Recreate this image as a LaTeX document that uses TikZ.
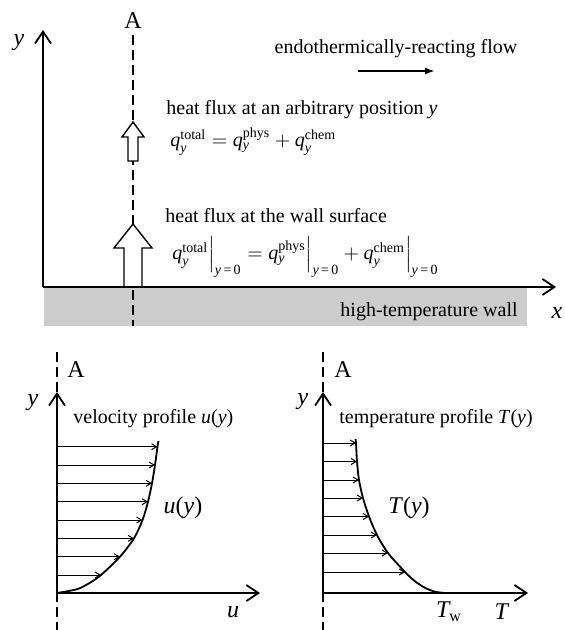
\documentclass[tikz,border=0pt]{standalone}
\usepackage{amsmath}
\usepackage{fontspec}
\setmainfont{Liberation Serif}
\usetikzlibrary{arrows.meta}

\newcommand\qy[1]{\textit{q}_{\textit{y}}^{\text{#1}}}
\newcommand\atwall{\Big|_{\text{\textit{y}\,=\,0}}}

\begin{document}
\begin{tikzpicture}[
  x=0.5pt, y=-0.5pt,
  axis/.style={-{Straight Barb[length=6pt,width=8pt]}, line width=0.9pt},
  guide/.style={dash pattern=on 5pt off 2.5pt, line width=0.6pt},
  block/.style={draw, fill=white, line width=0.7pt},
  prof/.style={-{Straight Barb[length=2.5pt,width=3pt]}, line width=0.5pt},
  curve/.style={line width=0.9pt},
  flow/.style={-{Latex[length=5pt,width=3.5pt]}, line width=0.9pt},
  lbl/.style={inner sep=0pt},
  sym/.style={font=\large, inner sep=1pt}
]
  \useasboundingbox (0,0) rectangle (564,630);

  % wall and section line A
  \fill[gray!40] (44,288) rectangle (527,326);
  \node[lbl, anchor=base east] (wall) at (518,316) {high-temperature wall};
  \draw[guide] (133,35) -- (133,326);
  \node[sym] (Atop) at (133,21) {A};

  % heat flux arrows
  \draw[block] (124,287) -- (124,248) -- (114,248) -- (133,224) -- (152,248) -- (142,248) -- (142,287) -- cycle;
  \draw[block] (128,161) -- (128,137) -- (122,137) -- (133,122) -- (144,137) -- (138,137) -- (138,161) -- cycle;

  \coordinate (o1) at (43,287);
  \draw[axis] (o1) -- (43,30);
  \draw[axis] (o1) -- (556,287);
  \node[sym] (ytop) at (19,43) {\textit{y}};
  \node[sym] (xtop) at (557,313) {\textit{x}};

  \node[lbl, anchor=base] (flowtxt) at (396,54) {endothermically-reacting flow};
  \coordinate (f1) at (358,71);
  \coordinate (f2) at (435,71);
  \draw[flow] (f1) -- (f2);

  \node[lbl, anchor=base west] (qtxt) at (166,115) {heat flux at an arbitrary position \textit{y}};
  \node[lbl, anchor=base west] (qeq) at (170,147) {$\qy{total} = \qy{phys} + \qy{chem}$};
  \node[lbl, anchor=base west] (wtxt) at (165,223) {heat flux at the wall surface};
  \node[lbl, anchor=base west] (weq) at (172,260) {$\qy{total}\atwall = \qy{phys}\atwall + \qy{chem}\atwall$};

  % velocity profile
  \draw[guide] (57,352) -- (57,630);
  \node[sym] (Avel) at (76,370) {A};
  \coordinate (o2) at (57,593);
  \draw[axis] (o2) -- (57,392);
  \draw[axis] (o2) -- (260,593);
  \node[sym] (yvel) at (33,403) {\textit{y}};
  \node[sym] (uax) at (233,612) {\textit{u}};
  \node[lbl, anchor=base west] (veltxt) at (73,423) {velocity profile \textit{u}(\textit{y})};
  \node[sym] (uy) at (183,508) {\textit{u}(\textit{y})};
  \draw[prof] (57,446.7) -- (157.5,446.7);
  \draw[prof] (57,465) -- (155,465);
  \draw[prof] (57,483.3) -- (152,483.3);
  \draw[prof] (57,501.7) -- (148,501.7);
  \draw[prof] (57,520) -- (142.5,520);
  \draw[prof] (57,538.3) -- (134,538.3);
  \draw[prof] (57,556.7) -- (120,556.7);
  \draw[prof] (57,575) -- (101,575);
  \draw[curve] plot[smooth] coordinates {(57,593) (77,589.2) (89,583.3) (101,575) (120,556.7) (134,538.3) (142.5,520) (148,501.7) (152,483.3) (155,465) (157.5,446.7) (158.5,441)};

  % temperature profile
  \draw[guide] (323,352) -- (323,630);
  \node[sym] (Atem) at (343,370) {A};
  \coordinate (o3) at (323,593);
  \draw[axis] (o3) -- (323,392);
  \draw[axis] (o3) -- (528,593);
  \node[sym] (ytem) at (303,402) {\textit{y}};
  \node[sym] (Tw) at (449,612) {$\textit{T}_{\text{w}}$};
  \node[sym] (Tax) at (502,612) {\textit{T}};
  \node[lbl, anchor=base west] (temtxt) at (339,423) {temperature profile \textit{T}(\textit{y})};
  \node[sym] (Ty) at (409,508) {\textit{T}(\textit{y})};
  \draw[prof] (323,443) -- (356,443);
  \draw[prof] (323,461.5) -- (357,461.5);
  \draw[prof] (323,480) -- (359,480);
  \draw[prof] (323,498) -- (363,498);
  \draw[prof] (323,516.5) -- (369,516.5);
  \draw[prof] (323,535) -- (377,535);
  \draw[prof] (323,553) -- (388,553);
  \draw[prof] (323,572) -- (405,572);
  \draw[curve] plot[smooth] coordinates {(355.5,439) (356,443) (357,461.5) (359,480) (363,498) (369,516.5) (377,535) (388,553) (405,572) (415,581.3) (425,587.8) (435,591.7) (445,593)};
\end{tikzpicture}
\end{document}
